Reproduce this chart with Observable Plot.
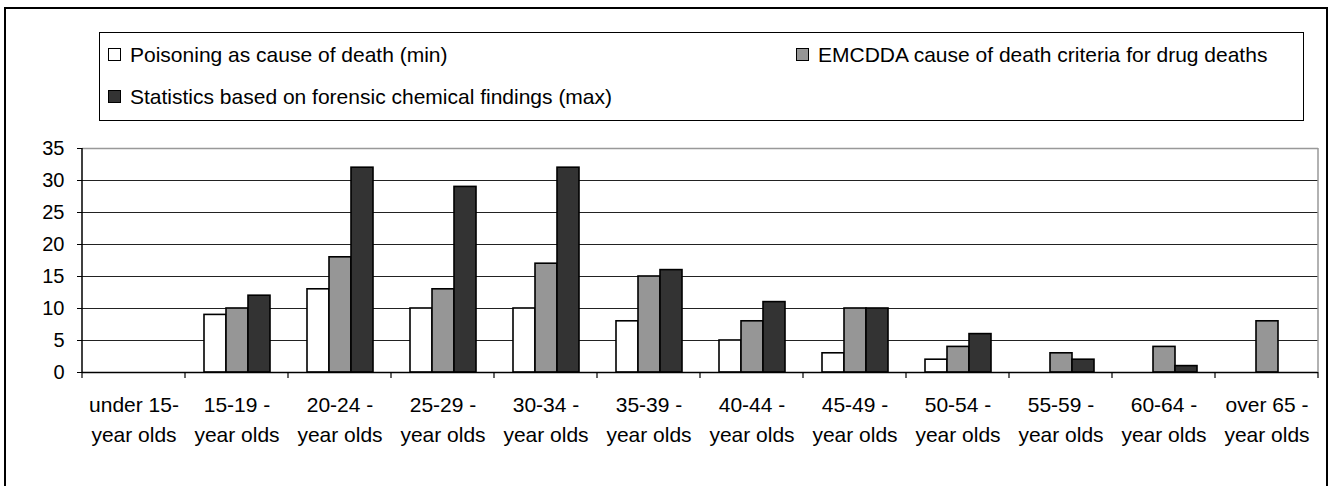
<!DOCTYPE html>
<html><head><meta charset="utf-8">
<script src="https://cdn.jsdelivr.net/npm/d3@7"></script>
<script src="https://cdn.jsdelivr.net/npm/@observablehq/plot@0.6"></script>
<style>
body{margin:0;background:#fff;font-family:"Liberation Sans",Arial,sans-serif;}
#wrap{position:relative;width:1332px;height:486px;overflow:hidden;}
#frame{position:absolute;left:4px;top:7px;width:1324px;height:500px;border:2px solid #000;box-sizing:border-box;}
#legend{position:absolute;left:99px;top:32px;width:1205px;height:89px;border:1px solid #000;box-sizing:border-box;background:#fff;}
.item{position:absolute;display:flex;align-items:center;font-size:21px;white-space:nowrap;line-height:1;}
.sw{width:11px;height:11px;border:1px solid #000;margin-right:9px;flex:none;}
#chart{position:absolute;left:0;top:0;}
</style></head>
<body><div id="wrap"><div id="frame"></div><div id="chart"></div><div id="legend"></div></div>
<script>
const ageGroups = ["under 15-", "15-19 -", "20-24 -", "25-29 -", "30-34 -", "35-39 -", "40-44 -", "45-49 -", "50-54 -", "55-59 -", "60-64 -", "over 65 -"];
const tickLine2 = "year olds";
const seriesNames = ["Poisoning as cause of death (min)", "EMCDDA cause of death criteria for drug deaths", "Statistics based on forensic chemical findings (max)"];
const seriesColors = ["#ffffff", "#969696", "#333333"];
const poisoning = [0, 9, 13, 10, 10, 8, 5, 3, 2, 0, 0, 0];
const emcdda    = [0, 10, 18, 13, 17, 15, 8, 10, 4, 3, 4, 8];
const forensic  = [0, 12, 32, 29, 32, 16, 11, 10, 6, 2, 1, 0];
const yTicks = [0, 5, 10, 15, 20, 25, 30, 35];

const seriesValues = [poisoning, emcdda, forensic];
const data = ageGroups.flatMap((g, i) => seriesNames.map((s, k) => ({group: g, series: s, value: seriesValues[k][i]})));

const W = 1332, H = 486, mL = 81, mR = 13, mT = 148, mB = 114;
const plot = Plot.plot({
  width: W, height: H,
  marginTop: mT, marginBottom: mB, marginLeft: mL, marginRight: mR,
  facet: {marginLeft: 0, marginRight: 0, marginTop: 0, marginBottom: 0},
  style: {fontFamily: "Liberation Sans, Arial, sans-serif", fontSize: "20px", background: "transparent", color: "#000"},
  fx: {domain: ageGroups, padding: 0, label: null},
  x: {domain: seriesNames, paddingInner: 0, paddingOuter: 0.74, axis: null},
  y: {domain: [0, 35], label: null},
  color: {domain: seriesNames, range: seriesColors},
  marks: [
    Plot.gridY(yTicks.filter(t => t > 0 && t < 35), {stroke: "#222", strokeOpacity: 1, strokeWidth: 1}),
    Plot.ruleY([35], {stroke: "#999", strokeWidth: 1.5}),
    Plot.barY(data, {fx: "group", x: "series", y: "value", fill: "series", stroke: "#000", strokeWidth: 1.6}),
    Plot.ruleY([0], {stroke: "#000", strokeWidth: 1.5}),
    Plot.axisY({ticks: yTicks, tickSize: 5, tickPadding: 13, fontSize: 20, label: null}),
    Plot.axisFx({anchor: "bottom", tickSize: 0, tickPadding: 18, fontSize: 21, lineHeight: 1.43, tickFormat: g => g + "\n" + tickLine2, label: null})
  ]
});

// axis line, right frame edge, and category boundary ticks from the library's scales
const fx = plot.scale("fx"), y = plot.scale("y");
const g = d3.select(plot).append("g");
const y0 = y.apply(0), y35 = y.apply(35);
const bounds = ageGroups.map(a => fx.apply(a)).concat([fx.apply(ageGroups[ageGroups.length - 1]) + fx.bandwidth]);
g.append("line").attr("x1", bounds[bounds.length-1]).attr("x2", bounds[bounds.length-1]).attr("y1", y35).attr("y2", y0).attr("stroke", "#999").attr("stroke-width", 1.5);
g.append("line").attr("x1", bounds[0]).attr("x2", bounds[0]).attr("y1", y35).attr("y2", y0).attr("stroke", "#000").attr("stroke-width", 1.5);
g.selectAll("line.bt").data(bounds).join("line").attr("class", "bt")
  .attr("x1", d => d).attr("x2", d => d).attr("y1", y0).attr("y2", y0 + 6).attr("stroke", "#000").attr("stroke-width", 1.2);

document.getElementById("chart").appendChild(plot);

const legendPos = [{left: 8, top: 21}, {left: 696, top: 21}, {left: 8, top: 63}];
const legend = document.getElementById("legend");
seriesNames.forEach((s, k) => {
  const it = document.createElement("div");
  it.className = "item";
  it.style.left = legendPos[k].left + "px";
  it.style.top = (legendPos[k].top - 11) + "px";
  it.style.height = "22px";
  const sw = document.createElement("span");
  sw.className = "sw";
  sw.style.background = seriesColors[k];
  const tx = document.createElement("span");
  tx.textContent = s;
  it.appendChild(sw); it.appendChild(tx);
  legend.appendChild(it);
});
</script>
</body></html>
